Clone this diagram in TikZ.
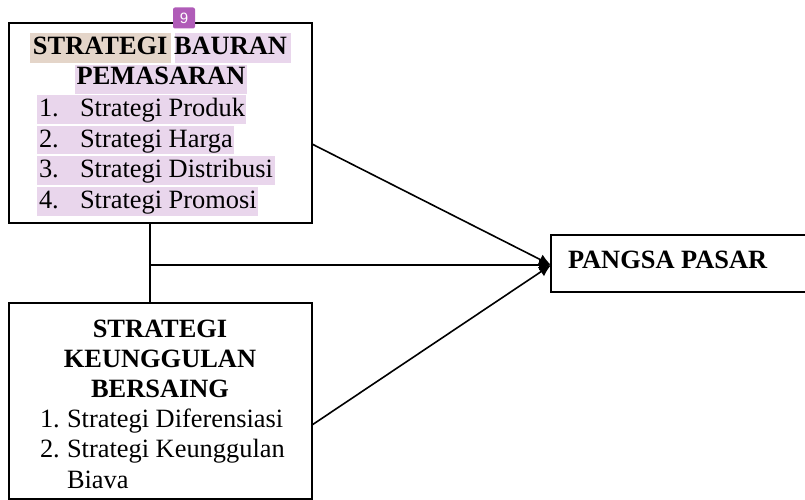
\documentclass[tikz,border=0pt]{standalone}
\usepackage{fontspec}
\setmainfont{Liberation Serif}
\setsansfont{Liberation Sans}
\usetikzlibrary{arrows.meta}
\definecolor{hlpurple}{HTML}{E9D6EC}
\definecolor{hltan}{HTML}{E4D5C9}
\definecolor{badge}{HTML}{B05CB8}
\tikzset{
  box/.style={draw=black, line width=1.6pt, fill=none},
  txt/.style={inner sep=0pt, outer sep=0pt, font=\fontsize{26.4}{30}\selectfont},
  bold/.style={txt, font=\fontsize{26.4}{30}\selectfont\bfseries},
  hl/.style={fill=hlpurple, draw=none},
  conn/.style={line width=1.6pt, draw=black},
  tip/.style={-{Latex[length=12pt,width=11pt]}}
}
\begin{document}
\begin{tikzpicture}[x=1pt,y=-1pt]
\useasboundingbox (0,0) rectangle (805,500);
% highlights
\fill[hltan] (30,33) rectangle (171,63);
\fill[hlpurple] (175,33) rectangle (291,63);
\fill[hlpurple] (75,65) rectangle (247,94);
\fill[hlpurple] (37,95) rectangle (246,124);
\fill[hlpurple] (37,126) rectangle (234,154);
\fill[hlpurple] (37,156) rectangle (275,185);
\fill[hlpurple] (37,187) rectangle (258,216);
% boxes
\draw[box] (9,23) rectangle (312,223);
\node[inner sep=0, minimum width=303pt, minimum height=200pt] (top) at (160.5,123) {};
\draw[box] (9,303) rectangle (312,499);
\node[inner sep=0, minimum width=303pt, minimum height=196pt] (bot) at (160.5,401) {};
\node[box, inner sep=0, minimum width=255pt, minimum height=57pt, anchor=north west] (pp) at (550,234) {};
% badge
\node[fill=badge, rounded corners=2pt, minimum width=22pt, minimum height=21pt, inner sep=0pt, text=white, font=\sffamily\fontsize{15}{15}\selectfont] (b9) at (184,18) {9};
% top box text
\node[bold, anchor=base] (t1) at (160,55) {STRATEGI BAURAN};
\node[bold, anchor=base] (t2) at (161,85) {PEMASARAN};
\node[txt, anchor=base west] (n1) at (39,117) {1.};
\node[txt, anchor=base west] (i1) at (80,117) {Strategi Produk};
\node[txt, anchor=base west] (n2) at (39,147) {2.};
\node[txt, anchor=base west] (i2) at (80,147) {Strategi Harga};
\node[txt, anchor=base west] (n3) at (39,177) {3.};
\node[txt, anchor=base west] (i3) at (80,177) {Strategi Distribusi};
\node[txt, anchor=base west] (n4) at (39,208) {4.};
\node[txt, anchor=base west] (i4) at (80,208) {Strategi Promosi};
% bottom box text
\node[bold, anchor=base] (b1) at (160,337) {STRATEGI};
\node[bold, anchor=base] (b2) at (160,367) {KEUNGGULAN};
\node[bold, anchor=base] (b3) at (160,397) {BERSAING};
\node[txt, anchor=base west] (bn1) at (40,427) {1.};
\node[txt, anchor=base west] (bi1) at (67,427) {Strategi Diferensiasi};
\node[txt, anchor=base west] (bn2) at (40,457) {2.};
\node[txt, anchor=base west] (bi2) at (67,457) {Strategi Keunggulan};
\node[txt, anchor=base west] (bi3) at (67,488) {Biava};
% pangsa text
\node[bold, anchor=base west] (ppt) at (568,268) {PANGSA PASAR};
% connectors
\coordinate (vt) at (150,223);
\coordinate (vb) at (150,303);
\coordinate (hj) at (150,265);
\coordinate (tip) at (551,265);
\coordinate (ts) at (312,144);
\coordinate (bs) at (312,425);
\draw[conn] (vt) -- (vb);
\draw[conn, tip] (hj) -- (tip);
\draw[conn, tip] (ts) -- (tip);
\draw[conn, tip] (bs) -- (tip);
\end{tikzpicture}
\end{document}
